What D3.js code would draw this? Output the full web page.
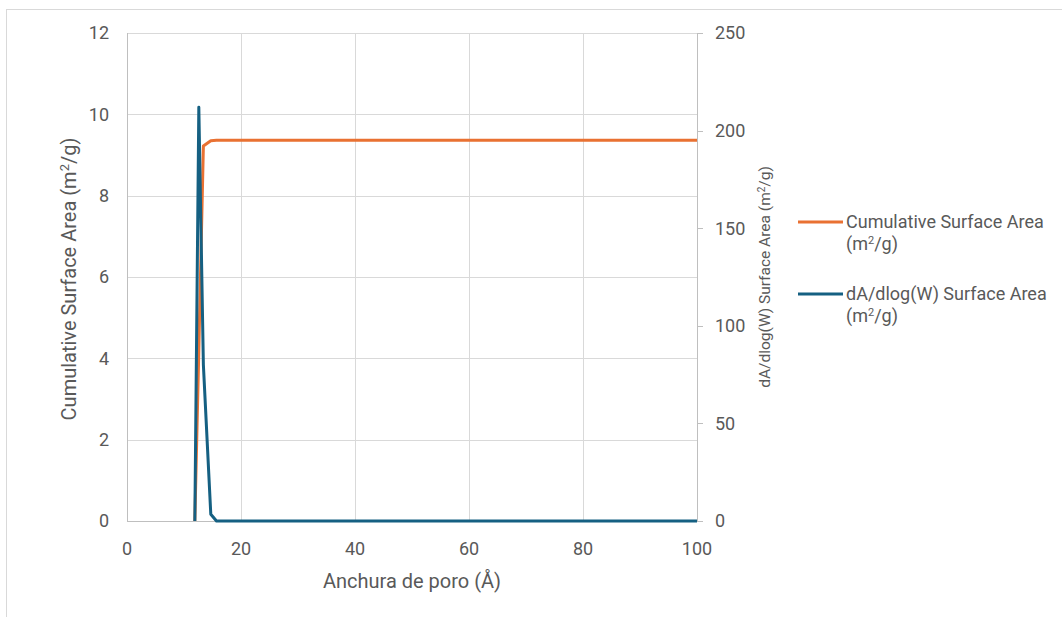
<!DOCTYPE html>
<html>
<head>
<meta charset="utf-8">
<script src="https://cdn.jsdelivr.net/npm/d3@7"></script>
<style>
  body { margin: 0; background: #fff; }
  svg { display: block; font-family: Roboto, "Noto Sans", sans-serif; }
</style>
</head>
<body>
<div id="chart"></div>
<script>
// pore width (Å)
var width_A = [11.9, 12.6, 13.4, 14.7, 15.7, 20, 40, 60, 80, 100];
// Cumulative Surface Area (m²/g)
var cumArea = [0, 4.2, 9.22, 9.35, 9.36, 9.36, 9.36, 9.36, 9.36, 9.36];
// dA/dlog(W) Surface Area (m²/g)
var dAdlogW = [0, 212, 80, 3.5, 0, 0, 0, 0, 0, 0];

var xTicks = [0, 20, 40, 60, 80, 100];
var yLeftTicks = [0, 2, 4, 6, 8, 10, 12];
var yRightTicks = [0, 50, 100, 150, 200, 250];

var W = 1062, H = 617;
var plot = { left: 127, right: 697, top: 33, bottom: 521 };

var svg = d3.select('#chart').append('svg')
    .attr('width', W)
    .attr('height', H);

// chart border
svg.append('rect')
    .attr('x', 6.5).attr('y', 9.5)
    .attr('width', W).attr('height', H)
    .attr('fill', 'none')
    .attr('stroke', '#d9d9d9');

var x = d3.scaleLinear().domain([0, 100]).range([plot.left, plot.right]);
var yL = d3.scaleLinear().domain([0, 12]).range([plot.bottom, plot.top]);
var yR = d3.scaleLinear().domain([0, 250]).range([plot.bottom, plot.top]);

// gridlines
var grid = svg.append('g').attr('stroke', '#d9d9d9').attr('stroke-width', 1);
grid.selectAll('.h').data(yLeftTicks.slice(1)).enter().append('line')
    .attr('x1', plot.left).attr('x2', plot.right)
    .attr('y1', function (d) { return Math.round(yL(d)) + 0.5; })
    .attr('y2', function (d) { return Math.round(yL(d)) + 0.5; });
grid.selectAll('.v').data(xTicks.slice(1, -1)).enter().append('line')
    .attr('y1', plot.top).attr('y2', plot.bottom)
    .attr('x1', function (d) { return Math.round(x(d)) + 0.5; })
    .attr('x2', function (d) { return Math.round(x(d)) + 0.5; });

// axes lines
var axisColor = '#bfbfbf';
svg.append('line')
    .attr('x1', plot.left + 0.5).attr('x2', plot.left + 0.5)
    .attr('y1', plot.top).attr('y2', plot.bottom)
    .attr('stroke', axisColor);
svg.append('line')
    .attr('x1', plot.right + 0.5).attr('x2', plot.right + 0.5)
    .attr('y1', plot.top).attr('y2', plot.bottom)
    .attr('stroke', axisColor);
svg.append('line')
    .attr('x1', plot.left).attr('x2', plot.right + 6)
    .attr('y1', plot.bottom + 0.5).attr('y2', plot.bottom + 0.5)
    .attr('stroke', axisColor);
// right axis tick marks
svg.selectAll('.rt').data(yRightTicks).enter().append('line')
    .attr('x1', plot.right).attr('x2', plot.right + 6)
    .attr('y1', function (d) { return Math.round(yR(d)) + 0.5; })
    .attr('y2', function (d) { return Math.round(yR(d)) + 0.5; })
    .attr('stroke', axisColor);

var textColor = '#595959';

// tick labels
svg.selectAll('.lt').data(yLeftTicks).enter().append('text')
    .attr('x', plot.left - 18)
    .attr('y', function (d) { return yL(d); })
    .attr('dy', '0.35em')
    .attr('text-anchor', 'end')
    .attr('fill', textColor)
    .style('font-size', '18px')
    .text(function (d) { return d; });
svg.selectAll('.rl').data(yRightTicks).enter().append('text')
    .attr('x', plot.right + 18)
    .attr('y', function (d) { return yR(d); })
    .attr('dy', '0.35em')
    .attr('text-anchor', 'start')
    .attr('fill', textColor)
    .style('font-size', '18px')
    .text(function (d) { return d; });
svg.selectAll('.xl').data(xTicks).enter().append('text')
    .attr('x', function (d) { return x(d); })
    .attr('y', plot.bottom + 28)
    .attr('dy', '0.35em')
    .attr('text-anchor', 'middle')
    .attr('fill', textColor)
    .style('font-size', '18px')
    .text(function (d) { return d; });

// axis titles
svg.append('text')
    .attr('x', (plot.left + plot.right) / 2)
    .attr('y', 581)
    .attr('dy', '0.35em')
    .attr('text-anchor', 'middle')
    .attr('fill', textColor)
    .style('font-size', '20px')
    .text('Anchura de poro (Å)');

var leftTitle = svg.append('text')
    .attr('transform', 'translate(69,' + ((plot.top + plot.bottom) / 2 + 2) + ') rotate(-90)')
    .attr('dy', '0.35em')
    .attr('text-anchor', 'middle')
    .attr('fill', textColor)
    .style('font-size', '20px');
leftTitle.append('tspan').text('Cumulative Surface Area (m');
leftTitle.append('tspan').attr('baseline-shift', 'super').style('font-size', '13px').text('2');
leftTitle.append('tspan').text('/g)');

var rightTitle = svg.append('text')
    .attr('transform', 'translate(765,' + ((plot.top + plot.bottom) / 2) + ') rotate(-90)')
    .attr('dy', '0.35em')
    .attr('text-anchor', 'middle')
    .attr('fill', textColor)
    .style('font-size', '15.5px');
rightTitle.append('tspan').text('dA/dlog(W) Surface Area (m');
rightTitle.append('tspan').attr('baseline-shift', 'super').style('font-size', '10px').text('2');
rightTitle.append('tspan').text('/g)');

// series
var orange = '#E97132', blue = '#156082';
var lineL = d3.line()
    .x(function (d, i) { return x(width_A[i]); })
    .y(function (d) { return yL(d); });
var lineR = d3.line()
    .x(function (d, i) { return x(width_A[i]); })
    .y(function (d) { return yR(d); });

svg.append('path').datum(cumArea)
    .attr('d', lineL)
    .attr('fill', 'none')
    .attr('stroke', orange)
    .attr('stroke-width', 3)
    .attr('stroke-linejoin', 'round');
svg.append('path').datum(dAdlogW)
    .attr('d', lineR)
    .attr('fill', 'none')
    .attr('stroke', blue)
    .attr('stroke-width', 3)
    .attr('stroke-linejoin', 'round');

// legend
var legend = [
    { name: 'Cumulative Surface Area', color: orange, y: 222 },
    { name: 'dA/dlog(W) Surface Area', color: blue, y: 294 }
];
var lg = svg.selectAll('.lg').data(legend).enter().append('g');
lg.append('line')
    .attr('x1', 798).attr('x2', 843)
    .attr('y1', function (d) { return d.y; })
    .attr('y2', function (d) { return d.y; })
    .attr('stroke', function (d) { return d.color; })
    .attr('stroke-width', 3);
lg.append('text')
    .attr('x', 846)
    .attr('y', function (d) { return d.y; })
    .attr('dy', '0.35em')
    .attr('fill', textColor)
    .style('font-size', '18px')
    .text(function (d) { return d.name; });
var unit = lg.append('text')
    .attr('x', 846)
    .attr('y', function (d) { return d.y + 22; })
    .attr('dy', '0.35em')
    .attr('fill', textColor)
    .style('font-size', '18px');
unit.append('tspan').text('(m');
unit.append('tspan').attr('baseline-shift', 'super').style('font-size', '11px').text('2');
unit.append('tspan').text('/g)');
</script>
</body>
</html>
